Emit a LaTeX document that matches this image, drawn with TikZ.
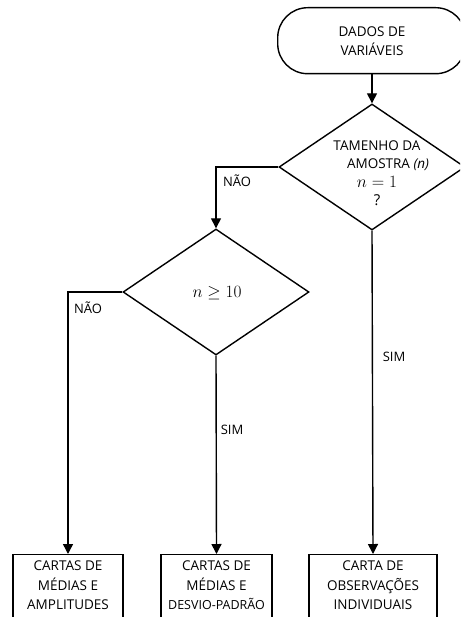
\documentclass[tikz,border=0pt]{standalone}
\usepackage{fontspec}
\setmainfont{Open Sans}
\usetikzlibrary{shapes.geometric,arrows.meta}
\begin{document}
\begin{tikzpicture}[x=1pt,y=-1pt,
  line/.style={line width=1.4pt},
  arr/.style={line, -{Triangle[length=10pt,width=10pt]}},
  dia/.style={diamond, draw, line width=1.4pt, inner sep=0pt, minimum width=186pt, minimum height=126pt},
  boxshape/.style={rectangle, draw, line width=1.4pt, inner sep=0pt, anchor=north},
  txt/.style={font=\fontsize{13.5}{19.5}\selectfont, align=center, inner sep=0pt},
  lab/.style={font=\fontsize{13}{14}\selectfont, inner sep=0pt}]
\useasboundingbox (0,0) rectangle (460,617);
\clip (0,0) rectangle (460,617);
% start terminal
\node[draw, line width=1.4pt, rounded corners=30pt, minimum width=188pt, minimum height=66pt, anchor=north west, inner sep=0pt] (start) at (277,7) {};
\node[txt] (starttxt) at (372,41) {DADOS DE\\VARIÁVEIS};
% decision 1
\node[dia] (d1) at (372,167) {};
\node[txt, font=\fontsize{13.5}{18.5}\selectfont] (d1txt) at (377,173) {TAMENHO DA\\\hspace*{22pt}AMOSTRA \textit{(n)}\\\fontsize{16}{18.5}\selectfont$n=1$\\\fontsize{15}{18.5}\selectfont ?};
% decision 2
\node[dia] (d2) at (216,292) {};
\node[txt, font=\fontsize{17}{19}\selectfont] (d2txt) at (217,293) {$n \geq 10$};
% boxes
\node[boxshape, minimum width=110pt, minimum height=90pt] (b1) at (68,554) {};
\node[boxshape, minimum width=111pt, minimum height=90pt] (b2) at (216.5,554) {};
\node[boxshape, minimum width=128pt, minimum height=90pt] (b3) at (373,554) {};
\node[txt, anchor=north] (b1txt) at (68,561) {CARTAS DE\\MÉDIAS E\\AMPLITUDES};
\node[txt, anchor=north] (b2txt) at (216.5,561) {CARTAS DE\\MÉDIAS E\\{\fontsize{12.5}{19.5}\selectfont DESVIO-PADRÃO}};
\node[txt, anchor=north] (b3txt) at (373,561) {CARTA DE\\OBSERVAÇÕES\\INDIVIDUAIS};
% connectors
\draw[arr] (start.south -| d1.north) -- (d1.north);
\draw[arr] (d1.west) -| (d2.north);
\draw[arr] (d2.west) -| (b1.north);
\draw[arr] (d2.south) -- (b2.north);
\draw[arr] (d1.south) -- (b3.north);
% labels
\node[lab] (nao1) at (237,181) {NÃO};
\node[lab] (nao2) at (88,308) {NÃO};
\node[lab] (sim1) at (394,357) {SIM};
\node[lab] (sim2) at (232,430) {SIM};
\end{tikzpicture}
\end{document}
